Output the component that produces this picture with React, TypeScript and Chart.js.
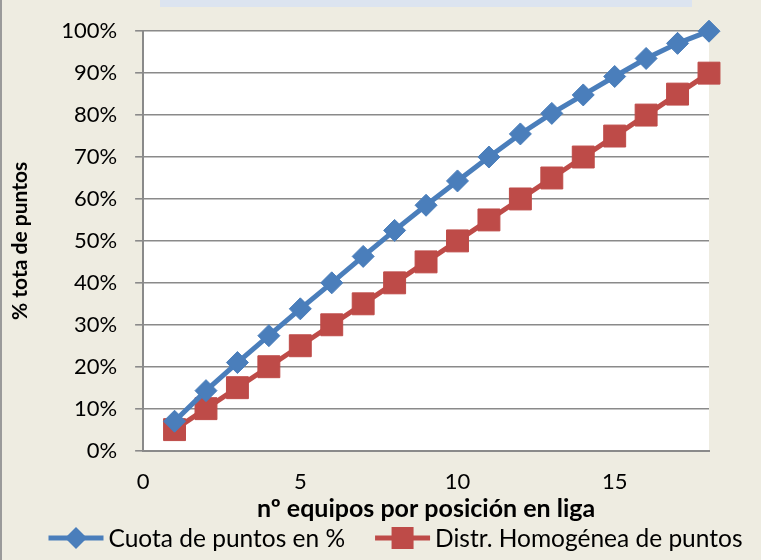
import React, { useEffect, useRef } from "react";
import { Chart, registerables } from "chart.js";

Chart.register(...registerables);

const positions = [1, 2, 3, 4, 5, 6, 7, 8, 9, 10, 11, 12, 13, 14, 15, 16, 17, 18];
const cuotaPuntos = [7, 14.3, 21, 27.4, 33.8, 40, 46.3, 52.5, 58.5, 64.3, 70, 75.5, 80.4, 84.8, 89.2, 93.5, 97.1, 100];
const distrHomogenea = [5, 10, 15, 20, 25, 30, 35, 40, 45, 50, 55, 60, 65, 70, 75, 80, 85, 90];
const seriesNames = ["Cuota de puntos en %", "Distr. Homogénea de puntos"];
const xTickValues = [0, 5, 10, 15];
const xTitle = "nº equipos por posición en liga";
const yTitle = "% tota de puntos";

const BLUE = "#4A7EBB";
const RED = "#BE4B48";
const BG = "#EEECE1";
const FONT = "Lato, 'Open Sans', sans-serif";

const decorPlugin = {
  id: "decor",
  beforeDraw(chart: any) {
    const { ctx, width, height } = chart;
    ctx.save();
    ctx.fillStyle = BG;
    ctx.fillRect(0, 0, width, height);
    // cut-off title box at top
    ctx.fillStyle = "#DCE4F0";
    ctx.fillRect(160, 0, 532, 7);
    // left frame line
    ctx.fillStyle = "#9a9a9a";
    ctx.fillRect(0, 0, 2, height);
    const ca = chart.chartArea;
    ctx.fillStyle = "#ffffff";
    ctx.fillRect(ca.left, ca.top, ca.right - ca.left, ca.bottom - ca.top);
    ctx.restore();
  },
  afterDraw(chart: any) {
    const { ctx } = chart;
    const ds = chart.data.datasets;
    ctx.save();
    ctx.font = `24.5px ${FONT}`;
    ctx.textBaseline = "middle";
    const lineW = 55;
    const gap = 5;
    const itemGap = 30;
    const widths = ds.map((d: any) => lineW + gap + ctx.measureText(d.label).width);
    const total = widths.reduce((a: number, b: number) => a + b, 0) + itemGap * (ds.length - 1);
    let x = (chart.width - total) / 2 + 15;
    const y = 538;
    ds.forEach((d: any, i: number) => {
      ctx.strokeStyle = d.borderColor;
      ctx.lineWidth = 5;
      ctx.beginPath();
      ctx.moveTo(x, y);
      ctx.lineTo(x + lineW, y);
      ctx.stroke();
      ctx.fillStyle = d.borderColor;
      const cx = x + lineW / 2;
      if (d.pointStyle === "rectRot") {
        ctx.beginPath();
        ctx.moveTo(cx, y - 11);
        ctx.lineTo(cx + 11, y);
        ctx.lineTo(cx, y + 11);
        ctx.lineTo(cx - 11, y);
        ctx.closePath();
        ctx.fill();
      } else {
        ctx.fillRect(cx - 11, y - 11, 22, 22);
      }
      ctx.fillStyle = "#000";
      ctx.textAlign = "left";
      ctx.fillText(d.label, x + lineW + gap, y + 1);
      x += widths[i] + itemGap;
    });
    ctx.restore();
  },
};

export default function App() {
  const ref = useRef<HTMLCanvasElement | null>(null);
  useEffect(() => {
    if (!ref.current) return;
    const chart = new Chart(ref.current, {
      type: "line",
      data: {
        labels: positions,
        datasets: [
          {
            label: seriesNames[0],
            data: positions.map((p, i) => ({ x: p, y: cuotaPuntos[i] })),
            borderColor: BLUE,
            backgroundColor: BLUE,
            borderWidth: 5,
            pointStyle: "rectRot",
            pointRadius: 11,
            pointBorderWidth: 1,
            pointBackgroundColor: BLUE,
            pointBorderColor: BLUE,
          },
          {
            label: seriesNames[1],
            data: positions.map((p, i) => ({ x: p, y: distrHomogenea[i] })),
            borderColor: RED,
            backgroundColor: RED,
            borderWidth: 5,
            pointStyle: "rect",
            pointRadius: 15.5,
            pointBorderWidth: 1,
            pointBackgroundColor: RED,
            pointBorderColor: RED,
          },
        ],
      },
      options: {
        animation: false,
        responsive: false,
        maintainAspectRatio: false,
        clip: false,
        layout: { padding: { top: 17, right: 52, bottom: 36, left: 8 } },
        plugins: {
          legend: { display: false },
          tooltip: { enabled: false },
          title: { display: false },
        },
        scales: {
          x: {
            type: "linear",
            min: 0,
            max: 18,
            afterBuildTicks: (scale: any) => {
              scale.ticks = xTickValues.map((v) => ({ value: v }));
            },
            grid: { display: false, drawTicks: false },
            border: { display: true, color: "#8a8a8a", width: 2 },
            ticks: {
              color: "#000",
              font: { family: FONT, size: 22 },
              padding: 18,
              maxRotation: 0,
            },
            title: {
              display: true,
              text: xTitle,
              color: "#000",
              font: { family: FONT, size: 25, weight: "bold" },
              padding: { top: -19, bottom: 0 },
            },
          },
          y: {
            min: 0,
            max: 100,
            ticks: {
              stepSize: 10,
              color: "#000",
              font: { family: FONT, size: 22 },
              padding: 18,
              callback: (v: any) => `${v}%`,
            },
            grid: {
              color: "#8a8a8a",
              lineWidth: 1.6,
              tickLength: 8,
              drawTicks: true,
            },
            border: { display: true, color: "#8a8a8a", width: 2 },
            title: {
              display: true,
              text: yTitle,
              color: "#000",
              font: { family: FONT, size: 21, weight: "bold" },
              padding: { top: 0, bottom: 10 },
            },
          },
        },
      },
      plugins: [decorPlugin],
    } as any);
    return () => chart.destroy();
  }, []);
  return (
    <div style={{ position: "fixed", left: 0, top: 0, width: 761, height: 560 }}>
      <canvas ref={ref} width={761} height={560} style={{ width: 761, height: 560, display: "block" }} />
    </div>
  );
}
